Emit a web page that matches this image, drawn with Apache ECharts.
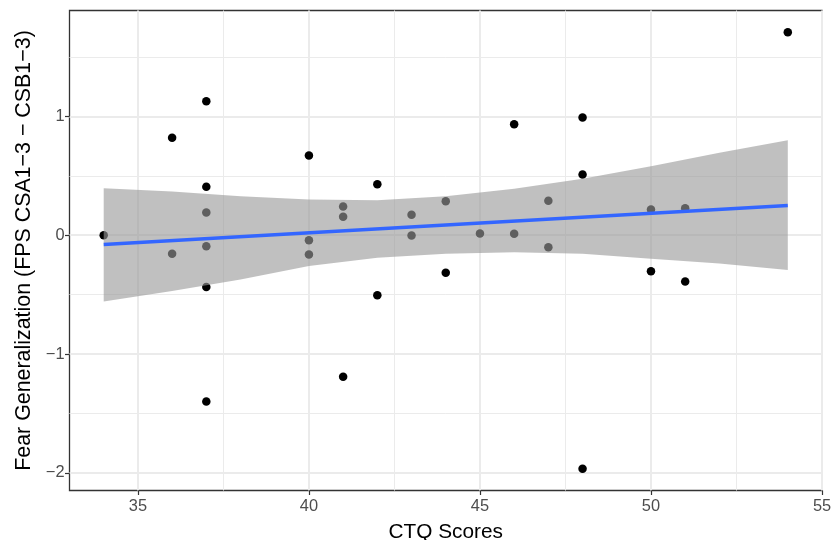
<!DOCTYPE html>
<html lang="en">
<head>
	<meta charset="UTF-8">
	<title>CTQ vs Fear Generalization</title>
	<style>
	body, div {
		margin: 0;
		padding: 0;
	}
	.echart {
		width: 833px;
		height: 540px;
	}
	</style>
</head>
<body>
	<div id="echart" class="echart"></div>

	<script src="https://cdn.jsdelivr.net/npm/echarts@6/dist/echarts.min.js"></script>

	<script>

	// points
	var ctq = [34, 36, 36, 37, 37, 37, 37, 37, 37, 40, 40, 40, 41, 41, 41, 42, 42,
		43, 43, 44, 44, 45, 46, 46, 47, 47, 48, 48, 48, 50, 50, 51, 51, 54];
	var fear = [0.00, 0.82, -0.157, 1.127, 0.407, 0.191, -0.093, -0.437, -1.399, 0.670, -0.042, -0.162, 0.241, 0.155, -1.191, 0.429, -0.505,
		0.172, -0.003, 0.286, -0.316, 0.014, 0.934, 0.012, 0.289, -0.101, 0.99, 0.51, -1.965, 0.216, -0.303, 0.227, -0.389, 1.707];

	// fitted line and its band
	var fitX = [34, 54];
	var fitY = [-0.078, 0.25];
	var bandX = [34, 36, 38, 40, 42, 44, 46, 48, 50, 52, 54];
	var bandLow = [-0.558, -0.47, -0.373, -0.26, -0.19, -0.157, -0.143, -0.157, -0.199, -0.238, -0.294];
	var bandHigh = [0.395, 0.367, 0.328, 0.30, 0.294, 0.328, 0.39, 0.474, 0.58, 0.693, 0.799];

	// axes
	var xTicks = [35, 40, 45, 50, 55];
	var xMinor = [37.5, 42.5, 47.5, 52.5];
	var yTicks = [-2, -1, 0, 1];
	var yMinor = [-1.5, -0.5, 0.5, 1.5];

	function pairs(xs, ys) {
		var out = [];
		for (var i = 0; i < xs.length; i++) out.push([xs[i], ys[i]]);
		return out;
	}

	var minorLines = [];
	xMinor.forEach(function(v){ minorLines.push({xAxis: v}); });
	yMinor.forEach(function(v){ minorLines.push({yAxis: v}); });

	var font = '"Liberation Sans", Arial, sans-serif';
	var minus = function(v){ return String(v).replace('-', '\u2212'); };

	var option = {
		animation: false,
		backgroundColor: '#fff',
		grid: {
			left: 69.5,
			top: 10.5,
			width: 752.5,
			height: 480,
			outerBoundsMode: 'none',
			containLabel: false,
			show: true,
			backgroundColor: '#fff',
			borderColor: '#333',
			borderWidth: 1.3
		},
		xAxis: {
			type: 'value',
			min: 33,
			max: 55,
			name: 'CTQ Scores',
			nameLocation: 'middle',
			nameGap: 31,
			nameTextStyle: {color: '#000', fontSize: 20.8, fontFamily: font},
			axisLine: {show: false, onZero: false},
			axisTick: {show: true, length: 4.5, lineStyle: {color: '#333', width: 1.2}, customValues: xTicks},
			axisLabel: {color: '#4d4d4d', fontSize: 16.4, fontFamily: font, margin: 8, customValues: xTicks, formatter: minus},
			splitLine: {show: true, lineStyle: {color: '#ebebeb', width: 2}}
		},
		yAxis: {
			type: 'value',
			min: -2.149,
			max: 1.891,
			name: 'Fear Generalization (FPS CSA1\u22123 \u2212 CSB1\u22123)',
			nameLocation: 'middle',
			nameGap: 28,
			nameTextStyle: {color: '#000', fontSize: 21.4, fontFamily: font},
			axisLine: {show: false, onZero: false},
			axisTick: {show: true, length: 4.5, lineStyle: {color: '#333', width: 1.2}, customValues: yTicks},
			axisLabel: {color: '#4d4d4d', fontSize: 16.4, fontFamily: font, margin: 5, customValues: yTicks, formatter: minus},
			splitLine: {show: true, lineStyle: {color: '#ebebeb', width: 2}}
		},
		series: [
			{
				// minor grid
				type: 'line',
				data: [],
				silent: true,
				markLine: {
					silent: true,
					z: 0,
					symbol: 'none',
					label: {show: false},
					lineStyle: {color: '#ebebeb', width: 1, type: 'solid'},
					data: minorLines
				}
			},
			{
				type: 'scatter',
				data: pairs(ctq, fear),
				symbolSize: 8.5,
				itemStyle: {color: '#000', opacity: 1},
				z: 2
			},
			{
				// confidence band, drawn over the points like ggplot does
				type: 'custom',
				data: pairs(bandX, bandHigh),
				silent: true,
				z: 3,
				renderItem: function(params, api) {
					if (params.dataIndex !== 0) return;
					var pts = [];
					for (var i = 0; i < bandX.length; i++) pts.push(api.coord([bandX[i], bandHigh[i]]));
					for (var j = bandX.length - 1; j >= 0; j--) pts.push(api.coord([bandX[j], bandLow[j]]));
					return {
						type: 'polygon',
						shape: {points: pts},
						style: {fill: 'rgba(153,153,153,0.62)'}
					};
				}
			},
			{
				type: 'line',
				data: pairs(fitX, fitY),
				showSymbol: false,
				lineStyle: {color: '#3366ff', width: 3.5},
				silent: true,
				z: 4
			}
		]
	};

	var myEcharts = echarts.init(document.getElementById('echart'));
	myEcharts.setOption(option);

	</script>
</body>
</html>
